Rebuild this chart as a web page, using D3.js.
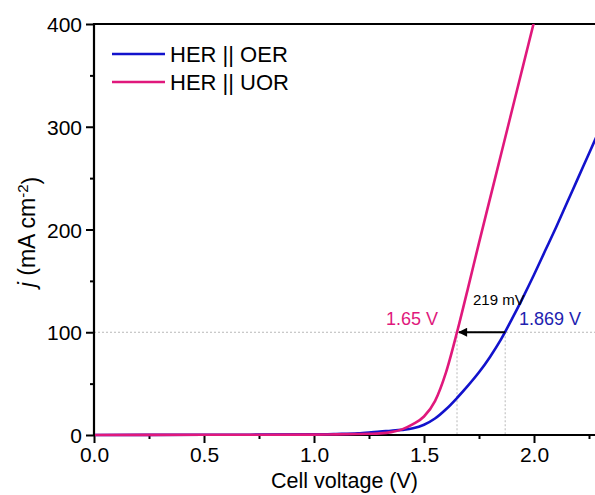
<!DOCTYPE html>
<html>
<head>
<meta charset="utf-8">
<script src="https://cdn.jsdelivr.net/npm/d3@7"></script>
<style>
  html, body { margin: 0; padding: 0; background: #fff; }
  svg { display: block; font-family: Arial, "Liberation Sans", Helvetica, sans-serif; }
</style>
</head>
<body>
<svg id="chart" width="595" height="495"></svg>
<script>
// ---- data ----
const oerVoltage = [0.0, 0.5, 1.0, 1.1, 1.2, 1.25, 1.3, 1.35, 1.4, 1.45, 1.5, 1.55, 1.6, 1.65, 1.7, 1.75, 1.8, 1.85, 1.9, 1.95, 2.0, 2.05, 2.1, 2.15, 2.2, 2.25, 2.3];
const oerCurrent = [0.0, 0.2, 0.6, 1.0, 1.6, 2.4, 3.4, 4.1, 5.0, 6.5, 10, 16, 25, 36, 48, 61, 76, 93, 113, 134, 156, 179, 202, 226, 250, 274, 298];

const uorVoltage = [0.0, 0.5, 1.0, 1.1, 1.2, 1.25, 1.3, 1.35, 1.4, 1.45, 1.5, 1.55, 1.6, 1.65, 1.7, 1.75, 1.8, 1.85, 1.9, 1.95, 2.0];
const uorCurrent = [0.0, 0.2, 0.4, 0.6, 0.9, 1.2, 1.6, 2.8, 5.5, 10.5, 18, 33, 61, 100, 143, 187, 230, 273, 316, 359, 402];

const seriesNames = ["HER || OER", "HER || UOR"];
const seriesColors = ["#1212cc", "#e0187c"];
const xTicks = [0.0, 0.5, 1.0, 1.5, 2.0];
const xMinorTicks = [0.25, 0.75, 1.25, 1.75, 2.25];
const yTicks = [0, 100, 200, 300, 400];
const yMinorTicks = [50, 150, 250, 350];
const refCurrent = 100;
const uorAt100 = 1.65;
const oerAt100 = 1.869;
const uorLabel = "1.65 V";
const oerLabel = "1.869 V";
const deltaLabel = "219 mV";

// ---- layout ----
const svg = d3.select("#chart");
const mLeft = 94, mRight = 600, mTop = 24, mBottom = 435;
const x = d3.scaleLinear().domain([0, 2.3]).range([mLeft, mRight]);
const y = d3.scaleLinear().domain([0, 400]).range([mBottom, mTop]);

const defs = svg.append("defs");
defs.append("clipPath").attr("id", "clip2")
  .append("rect").attr("x", mLeft + 1).attr("y", mTop).attr("width", mRight - mLeft).attr("height", mBottom - mTop + 2);
defs.append("marker")
  .attr("id", "arrow").attr("viewBox", "0 0 10 10").attr("refX", 9).attr("refY", 5)
  .attr("markerWidth", 6).attr("markerHeight", 4.5).attr("orient", "auto")
  .attr("markerUnits", "strokeWidth")
  .append("path").attr("d", "M0,0 L10,5 L0,10 Z").attr("fill", "#000");

// reference dotted lines
const guide = svg.append("g").attr("stroke", "#b8b8b8").attr("stroke-width", 1).attr("stroke-dasharray", "2,2").attr("fill", "none");
guide.append("line").attr("x1", x(0)).attr("x2", mRight).attr("y1", y(refCurrent)).attr("y2", y(refCurrent));
guide.append("line").attr("x1", x(uorAt100)).attr("x2", x(uorAt100)).attr("y1", y(refCurrent)).attr("y2", y(0));
guide.append("line").attr("x1", x(oerAt100)).attr("x2", x(oerAt100)).attr("y1", y(refCurrent)).attr("y2", y(0));

// axes
const fontSize = 21;
const xAxis = d3.axisBottom(x).tickValues(xTicks).tickFormat(d3.format(".1f")).tickSizeInner(8).tickSizeOuter(0).tickPadding(4);
const xAxisMinor = d3.axisBottom(x).tickValues(xMinorTicks).tickFormat("").tickSizeInner(4).tickSizeOuter(0);
const yAxis = d3.axisLeft(y).tickValues(yTicks).tickFormat(d3.format("d")).tickSizeInner(8).tickSizeOuter(0).tickPadding(4);
const yAxisMinor = d3.axisLeft(y).tickValues(yMinorTicks).tickFormat("").tickSizeInner(4).tickSizeOuter(0);

function styleAxis(g) {
  g.select(".domain").remove();
  g.selectAll(".tick line").attr("stroke", "#000").attr("stroke-width", 2);
  g.selectAll(".tick text").attr("fill", "#000").style("font-size", fontSize + "px").style("font-family", "Arial, 'Liberation Sans', sans-serif");
}
svg.append("g").attr("transform", `translate(0,${mBottom})`).call(xAxisMinor).call(styleAxis);
svg.append("g").attr("transform", `translate(0,${mBottom})`).call(xAxis).call(styleAxis);
svg.append("g").attr("transform", `translate(${mLeft},0)`).call(yAxisMinor).call(styleAxis);
svg.append("g").attr("transform", `translate(${mLeft},0)`).call(yAxis).call(styleAxis)
  .selectAll(".tick text").attr("dy", "0.36em");

// frame lines
svg.append("line").attr("x1", mLeft).attr("x2", mLeft).attr("y1", mTop - 1).attr("y2", mBottom + 1).attr("stroke", "#000").attr("stroke-width", 2.2);
svg.append("line").attr("x1", mLeft - 1).attr("x2", mRight).attr("y1", mBottom).attr("y2", mBottom).attr("stroke", "#000").attr("stroke-width", 2.2);
svg.append("line").attr("x1", mLeft - 1).attr("x2", mRight).attr("y1", mTop).attr("y2", mTop).attr("stroke", "#000").attr("stroke-width", 2);

// curves (drawn over the bottom axis, as in the original)
const line = d3.line().x(d => x(d[0])).y(d => y(d[1])).curve(d3.curveMonotoneX);
const oerData = oerVoltage.map((v, i) => [v, oerCurrent[i]]);
const uorData = uorVoltage.map((v, i) => [v, uorCurrent[i]]);
const curves = svg.append("g").attr("clip-path", "url(#clip2)");
curves.append("path").datum(oerData).attr("d", line).attr("fill", "none")
  .attr("stroke", seriesColors[0]).attr("stroke-width", 2.6).attr("stroke-linejoin", "round");
curves.append("path").datum(uorData).attr("d", line).attr("fill", "none")
  .attr("stroke", seriesColors[1]).attr("stroke-width", 2.6).attr("stroke-linejoin", "round");

// axis titles
svg.append("text").attr("x", (mLeft + 595) / 2).attr("y", 488).attr("text-anchor", "middle")
  .style("font-size", "21.5px").attr("fill", "#000").text("Cell voltage (V)");
const yl = svg.append("text").attr("transform", `translate(35,232) rotate(-90)`)
  .attr("text-anchor", "middle").style("font-size", "23px").attr("fill", "#000");
yl.append("tspan").style("font-style", "italic").text("j");
yl.append("tspan").text(" (mA cm");
yl.append("tspan").attr("dy", "-0.5em").style("font-size", "15px").text("-2");
yl.append("tspan").attr("dy", "0.5em").text(")");

// legend
const legend = svg.append("g");
seriesNames.forEach((name, i) => {
  const ly = 54 + i * 28;
  legend.append("line").attr("x1", 112).attr("x2", 165).attr("y1", ly).attr("y2", ly)
    .attr("stroke", seriesColors[i]).attr("stroke-width", 2.6);
  legend.append("text").attr("x", 170).attr("y", ly).attr("dy", "0.36em")
    .style("font-size", "22px").attr("fill", "#000").text(name);
});

// annotations
svg.append("line").attr("x1", x(oerAt100)).attr("x2", x(uorAt100) + 2)
  .attr("y1", y(refCurrent)).attr("y2", y(refCurrent))
  .attr("stroke", "#000").attr("stroke-width", 2).attr("marker-end", "url(#arrow)");
svg.append("text").attr("x", 386).attr("y", 325).style("font-size", "18px").attr("fill", seriesColors[1]).text(uorLabel);
svg.append("text").attr("x", 519).attr("y", 325).style("font-size", "18px").attr("fill", "#2222b0").text(oerLabel);
svg.append("text").attr("x", 473).attr("y", 305).style("font-size", "15px").attr("fill", "#000").text(deltaLabel);
</script>
</body>
</html>
